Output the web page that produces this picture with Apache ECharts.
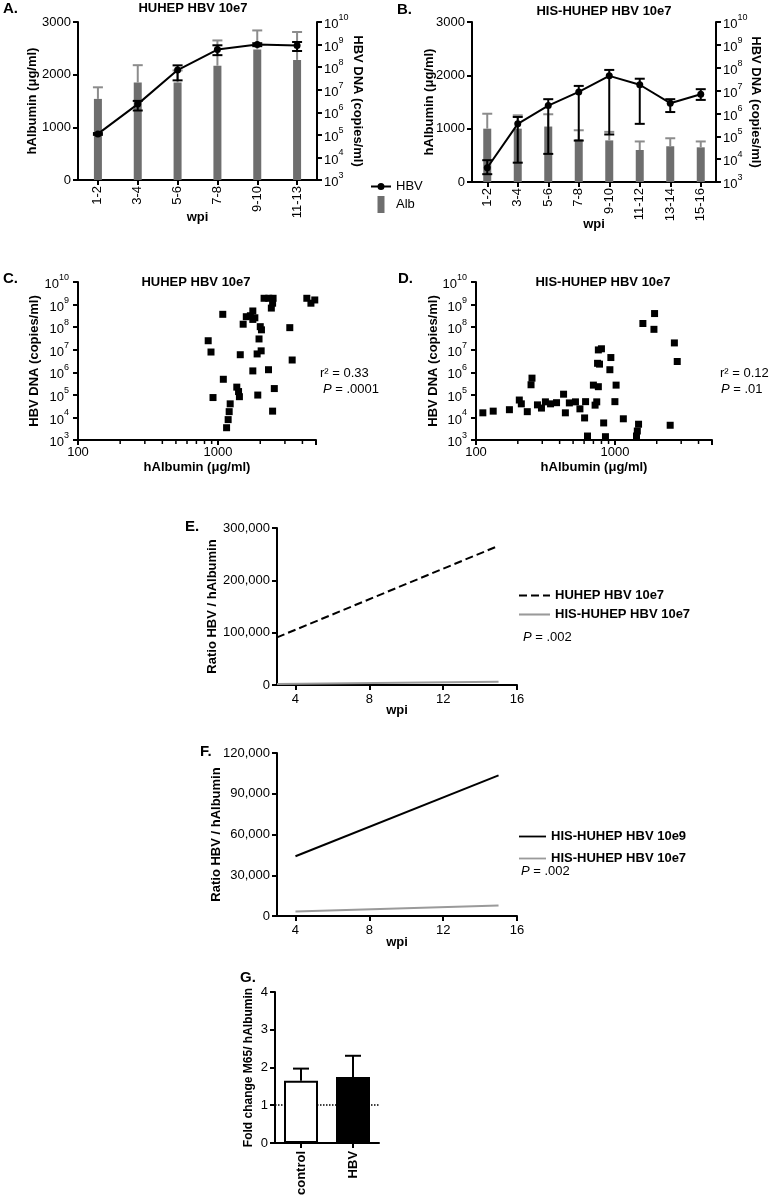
<!DOCTYPE html>
<html>
<head>
<meta charset="utf-8">
<script src="https://cdn.jsdelivr.net/npm/echarts@6/dist/echarts.min.js"></script>
<style>
html, body { margin: 0; padding: 0; background: #fff; }
#chart { width: 770px; height: 1198px; }
</style>
</head>
<body>
<div id="chart"></div>
<script>
// ---- panel A : HUHEP HBV 10e7
const wpiA = ['1-2', '3-4', '5-6', '7-8', '9-10', '11-13'];
const albA = [1540, 1850, 1850, 2170, 2480, 2280];
const albTopA = [1760, 2180, 2080, 2650, 2840, 2810];
const hbvA = [1.1e5, 2.3e6, 7.4e7, 6.0e8, 1.0e9, 9.0e8];
const hbvLoA = [1.0e5, 1.2e6, 2.6e7, 3.4e8, 0.85e9, 5.2e8];
const hbvHiA = [1.2e5, 3.2e6, 1.2e8, 9.3e8, 1.15e9, 1.3e9];

// ---- panel B : HIS-HUHEP HBV 10e7
const wpiB = ['1-2', '3-4', '5-6', '7-8', '9-10', '11-12', '13-14', '15-16'];
const albB = [1000, 1000, 1040, 800, 780, 600, 670, 650];
const albTopB = [1280, 1250, 1270, 970, 940, 760, 820, 760];
const hbvB = [4.2e3, 3.5e5, 2.2e6, 8.7e6, 4.4e7, 1.8e7, 2.8e6, 6.9e6];
const hbvLoB = [2.2e3, 7.0e3, 1.7e4, 6.5e4, 1.2e5, 3.5e5, 1.15e6, 3.9e6];
const hbvHiB = [9.0e3, 7.0e5, 4.2e6, 1.6e7, 8.0e7, 3.3e7, 4.2e6, 1.15e7];

// ---- panel C / D : hAlbumin vs HBV DNA
const scatterC = [
  [2130, 1.9e9], [2300, 1.9e9], [2470, 1.9e9], [2450, 1.15e9], [2400, 7.0e8],
  [4300, 1.9e9], [4900, 1.6e9], [4600, 1.15e9],
  [1080, 3.7e8], [1770, 5.2e8], [1590, 2.9e8], [1700, 3.2e8], [1830, 2.6e8], [1770, 2.2e8],
  [1510, 1.35e8], [2000, 1.05e8], [2040, 7.6e7], [3250, 9.5e7],
  [850, 2.5e7], [1960, 3.0e7], [890, 7.9e6], [1440, 6.0e6], [1900, 6.5e6], [2030, 8.9e6], [3380, 3.5e6],
  [1770, 1.15e6], [2290, 1.3e6], [1090, 4.9e5],
  [1360, 2.2e5], [1400, 1.4e5], [1420, 8.3e4], [1920, 9.8e4], [2520, 1.9e5], [920, 7.6e4],
  [1220, 4.0e4], [1200, 1.8e4], [1180, 8.0e3], [1150, 3.5e3], [2450, 1.9e4]
];
const scatterD = [
  [1930, 4.0e8], [1590, 1.45e8], [1910, 8.0e7], [2680, 2.0e7], [2810, 3.0e6],
  [760, 9.8e6], [800, 1.1e7], [935, 4.5e6], [750, 2.5e6], [775, 2.3e6], [920, 1.3e6],
  [253, 5.5e5], [249, 2.8e5], [700, 2.7e5], [760, 2.3e5], [1020, 2.7e5],
  [205, 5.9e4], [427, 1.07e5], [1000, 5.0e4], [615, 5.0e4], [720, 3.5e4],
  [112, 1.6e4], [133, 1.9e4], [174, 2.2e4], [212, 4.0e4], [234, 1.8e4], [277, 3.6e4],
  [296, 2.6e4], [316, 4.9e4], [344, 4.0e4], [380, 4.5e4], [440, 1.6e4], [470, 4.4e4],
  [520, 4.9e4], [560, 2.4e4], [605, 9.5e3], [635, 1.5e3], [740, 4.9e4], [830, 5.7e3],
  [855, 1.4e3], [1150, 8.7e3], [1450, 2.5e3], [1430, 1.5e3], [1480, 5.0e3], [2500, 4.5e3]
];
const albMinorTicks = [200, 300, 400, 500, 600, 700, 800, 900, 2000, 3000, 4000];

// ---- panel E / F : regression of ratio HBV / hAlbumin
const eWpi = [3, 15];
const eHuhep7 = [91000, 266000];
const eHis7 = [2000, 6300];
const fWpi = [4, 15];
const fHis9 = [44000, 103500];
const fHis7 = [3300, 7800];
const wpiTicks = [4, 8, 12, 16];

// ---- panel G
const gCats = ['control', 'HBV'];
const gMean = [1.65, 1.75];
const gTop = [1.97, 2.31];

const FONT = '"Liberation Sans", Arial, Helvetica, sans-serif';

function axis(o) {
  const base = {
    nameLocation: 'middle',
    nameMoveOverlap: false,
    nameTextStyle: { color: '#000', fontSize: 13, fontWeight: 'bold', fontFamily: FONT },
    axisLine: { show: true, onZero: false, lineStyle: { color: '#000', width: 2 } },
    axisTick: { show: true, length: 5, lineStyle: { color: '#000', width: 2 } },
    axisLabel: { color: '#000', fontSize: 13, fontFamily: FONT, margin: 7 },
    splitLine: { show: false }
  };
  for (const k in o) {
    if (base[k] && typeof o[k] === 'object' && !Array.isArray(o[k])) base[k] = Object.assign({}, base[k], o[k]);
    else base[k] = o[k];
  }
  return base;
}

const logRich = {
  b: { fontSize: 13, lineHeight: 18, verticalAlign: 'bottom', color: '#000', fontFamily: FONT },
  s: { fontSize: 9, lineHeight: 9, verticalAlign: 'top', color: '#000', fontFamily: FONT }
};
function powLabel(v) {
  const e = Math.round(Math.log10(v));
  if (Math.abs(Math.log10(v) - e) > 1e-6) return '';
  return '{b|10}{s|' + e + '}';
}
function plainPow(v) {
  return (v === 100 || v === 1000) ? String(v) : '';
}
const commas = v => v.toLocaleString('en-US');

// error bar: vertical line from value(1) to value(2), cap at top (and bottom if both)
function errBar(cap, color, both) {
  return function (params, api) {
    const i = api.value(0);
    const lo = api.coord([i, api.value(1)]);
    const hi = api.coord([i, api.value(2)]);
    const st = { stroke: color, lineWidth: 2 };
    const kids = [
      { type: 'line', shape: { x1: lo[0], y1: lo[1], x2: hi[0], y2: hi[1] }, style: st },
      { type: 'line', shape: { x1: hi[0] - cap, y1: hi[1], x2: hi[0] + cap, y2: hi[1] }, style: st }
    ];
    if (both) kids.push({ type: 'line', shape: { x1: lo[0] - cap, y1: lo[1], x2: lo[0] + cap, y2: lo[1] }, style: st });
    return { type: 'group', children: kids };
  };
}
function minorTick(params, api) {
  const p = api.coord([api.value(0), api.value(1)]);
  return { type: 'line', shape: { x1: p[0], y1: p[1], x2: p[0], y2: p[1] + 4 }, style: { stroke: '#000', lineWidth: 1.5 } };
}

function txt(text, x, y, size, opts) {
  return {
    type: 'text', x: x, y: y, silent: true,
    style: Object.assign({
      text: text, fontSize: size, fontFamily: FONT, fill: '#000',
      verticalAlign: 'middle', align: 'left'
    }, opts || {})
  };
}
const italicRich = { i: { fontStyle: 'italic', fontSize: 13, fontFamily: FONT, fill: '#000' } };

// legend icons
const solidIcon = 'path://M0,0h30v2h-30z';
const dashIcon = 'path://M0,0h8v2h-8zM12,0h8v2h-8zM24,0h7v2h-7z';
const lineDotIcon = 'path://M0,2.5h20v2h-20zM6.5,3.5a3.5,3.5 0 1,1 7,0a3.5,3.5 0 1,1 -7,0z';
const barIcon = 'path://M0,0H7V17H0Z';

const myChart = echarts.init(document.getElementById('chart'));

const option = {
  animation: false,
  backgroundColor: '#fff',
  textStyle: { fontFamily: FONT },
  grid: [
    { left: 78, top: 22, width: 239, height: 158 },   // A
    { left: 472, top: 22, width: 244, height: 160 },  // B
    { left: 78, top: 282, width: 238, height: 158 },  // C
    { left: 476, top: 282, width: 236, height: 158 }, // D
    { left: 277, top: 528, width: 240, height: 157 }, // E
    { left: 277, top: 753, width: 240, height: 163 }, // F
    { left: 275, top: 992, width: 104, height: 153 }  // G
  ],
  xAxis: [
    axis({ gridIndex: 0, type: 'category', data: wpiA, name: 'wpi', nameGap: 31,
      axisTick: { alignWithLabel: true }, axisLabel: { rotate: 90, interval: 0, margin: 6 } }),
    axis({ gridIndex: 1, type: 'category', data: wpiB, name: 'wpi', nameGap: 36,
      axisTick: { alignWithLabel: true }, axisLabel: { rotate: 90, interval: 0, margin: 6 } }),
    axis({ gridIndex: 2, type: 'log', min: 100, max: 5000, interval: 1, name: 'hAlbumin (μg/ml)', nameGap: 21,
      axisLabel: { formatter: plainPow, margin: 6 } }),
    axis({ gridIndex: 3, type: 'log', min: 100, max: 5000, interval: 1, name: 'hAlbumin (μg/ml)', nameGap: 21,
      axisLabel: { formatter: plainPow, margin: 6 } }),
    axis({ gridIndex: 4, type: 'value', min: 3, max: 16, name: 'wpi', nameGap: 19,
      axisTick: { customValues: wpiTicks }, axisLabel: { customValues: wpiTicks, margin: 8 } }),
    axis({ gridIndex: 5, type: 'value', min: 3, max: 16, name: 'wpi', nameGap: 20,
      axisTick: { customValues: wpiTicks }, axisLabel: { customValues: wpiTicks, margin: 8 } }),
    axis({ gridIndex: 6, type: 'category', data: gCats,
      axisTick: { alignWithLabel: true }, axisLabel: { rotate: 90, interval: 0, fontWeight: 'bold', margin: 8 } })
  ],
  yAxis: [
    axis({ gridIndex: 0, type: 'value', min: 0, max: 3000, interval: 1000, name: 'hAlbumin (μg/ml)', nameGap: 39,
      axisLabel: { formatter: v => String(v) } }),
    axis({ gridIndex: 0, type: 'log', position: 'right', min: 1e3, max: 1e10, interval: 1,
      name: 'HBV DNA (copies/ml)', nameGap: 34, nameRotate: -90,
      axisLabel: { formatter: powLabel, rich: logRich } }),
    axis({ gridIndex: 1, type: 'value', min: 0, max: 3000, interval: 1000, name: 'hAlbumin (μg/ml)', nameGap: 36,
      axisLabel: { formatter: v => String(v) } }),
    axis({ gridIndex: 1, type: 'log', position: 'right', min: 1e3, max: 1e10, interval: 1,
      name: 'HBV DNA (copies/ml)', nameGap: 33, nameRotate: -90,
      axisLabel: { formatter: powLabel, rich: logRich } }),
    axis({ gridIndex: 2, type: 'log', min: 1e3, max: 1e10, interval: 1, name: 'HBV DNA (copies/ml)', nameGap: 37,
      axisLabel: { formatter: powLabel, rich: logRich, margin: 9 } }),
    axis({ gridIndex: 3, type: 'log', min: 1e3, max: 1e10, interval: 1, name: 'HBV DNA (copies/ml)', nameGap: 36,
      axisLabel: { formatter: powLabel, rich: logRich, margin: 9 } }),
    axis({ gridIndex: 4, type: 'value', min: 0, max: 300000, interval: 100000, name: 'Ratio HBV / hAlbumin', nameGap: 58,
      axisLabel: { formatter: commas } }),
    axis({ gridIndex: 5, type: 'value', min: 0, max: 120000, interval: 30000, name: 'Ratio HBV / hAlbumin', nameGap: 54,
      axisLabel: { formatter: commas } }),
    axis({ gridIndex: 6, type: 'value', min: 0, max: 4, interval: 1, name: 'Fold change M65/ hAlbumin', nameGap: 20,
      nameTextStyle: { fontSize: 12 } })
  ],
  legend: [
    { data: [{ name: 'HBV', icon: lineDotIcon }, { name: 'Alb', icon: barIcon }], orient: 'vertical', left: 371, top: 180, padding: 0,
      itemWidth: 20, itemHeight: 17, itemGap: 3, selectedMode: false,
      textStyle: { fontSize: 13, color: '#000', fontFamily: FONT } },
    { data: [{ name: 'HUHEP HBV 10e7', icon: dashIcon }, { name: 'HIS-HUHEP HBV 10e7', icon: solidIcon }],
      orient: 'vertical', left: 519, top: 589, padding: 0,
      itemWidth: 31, itemHeight: 12, itemGap: 6, selectedMode: false,
      textStyle: { fontSize: 13, fontWeight: 'bold', color: '#000', fontFamily: FONT } },
    { data: [{ name: 'HIS-HUHEP HBV 10e9', icon: solidIcon }, { name: 'HIS-HUHEP HBV 10e7', icon: solidIcon }],
      orient: 'vertical', left: 519, top: 830, padding: 0,
      itemWidth: 27, itemHeight: 12, itemGap: 9, selectedMode: false,
      textStyle: { fontSize: 13, fontWeight: 'bold', color: '#000', fontFamily: FONT } }
  ],
  series: [
    // A
    { name: 'Alb', type: 'bar', xAxisIndex: 0, yAxisIndex: 0, data: albA, barWidth: 8, itemStyle: { color: '#6e6e6e' } },
    { type: 'custom', xAxisIndex: 0, yAxisIndex: 0, renderItem: errBar(5, '#8c8c8c', false),
      data: albA.map((v, i) => [i, v, albTopA[i]]), encode: { x: 0, y: [1, 2] }, z: 3 },
    { type: 'custom', xAxisIndex: 0, yAxisIndex: 1, renderItem: errBar(5, '#000', true),
      data: hbvA.map((v, i) => [i, hbvLoA[i], hbvHiA[i]]), encode: { x: 0, y: [1, 2] }, z: 4 },
    { name: 'HBV', type: 'line', xAxisIndex: 0, yAxisIndex: 1, data: hbvA, symbol: 'circle', symbolSize: 7,
      lineStyle: { color: '#000', width: 2 }, itemStyle: { color: '#000' }, z: 5 },
    // B
    { name: 'Alb', type: 'bar', xAxisIndex: 1, yAxisIndex: 2, data: albB, barWidth: 8, itemStyle: { color: '#6e6e6e' } },
    { type: 'custom', xAxisIndex: 1, yAxisIndex: 2, renderItem: errBar(5, '#8c8c8c', false),
      data: albB.map((v, i) => [i, v, albTopB[i]]), encode: { x: 0, y: [1, 2] }, z: 3 },
    { type: 'custom', xAxisIndex: 1, yAxisIndex: 3, renderItem: errBar(5, '#000', true),
      data: hbvB.map((v, i) => [i, hbvLoB[i], hbvHiB[i]]), encode: { x: 0, y: [1, 2] }, z: 4 },
    { name: 'HBV', type: 'line', xAxisIndex: 1, yAxisIndex: 3, data: hbvB, symbol: 'circle', symbolSize: 7,
      lineStyle: { color: '#000', width: 2 }, itemStyle: { color: '#000' }, z: 5 },
    // C
    { type: 'scatter', xAxisIndex: 2, yAxisIndex: 4, data: scatterC, symbol: 'rect', symbolSize: 7,
      itemStyle: { color: '#000', opacity: 1 } },
    { type: 'custom', xAxisIndex: 2, yAxisIndex: 4, renderItem: minorTick, data: albMinorTicks.map(v => [v, 1e3]), encode: { x: 0, y: 1 } },
    // D
    { type: 'scatter', xAxisIndex: 3, yAxisIndex: 5, data: scatterD, symbol: 'rect', symbolSize: 7,
      itemStyle: { color: '#000', opacity: 1 } },
    { type: 'custom', xAxisIndex: 3, yAxisIndex: 5, renderItem: minorTick, data: albMinorTicks.map(v => [v, 1e3]), encode: { x: 0, y: 1 } },
    // E
    { name: 'HUHEP HBV 10e7', type: 'line', xAxisIndex: 4, yAxisIndex: 6, symbol: 'none',
      data: eWpi.map((x, i) => [x, eHuhep7[i]]), lineStyle: { color: '#000', width: 2, type: [8, 4] }, itemStyle: { color: '#000' } },
    { name: 'HIS-HUHEP HBV 10e7', type: 'line', xAxisIndex: 4, yAxisIndex: 6, symbol: 'none',
      data: eWpi.map((x, i) => [x, eHis7[i]]), lineStyle: { color: '#9a9a9a', width: 2 }, itemStyle: { color: '#9a9a9a' } },
    // F
    { name: 'HIS-HUHEP HBV 10e9', type: 'line', xAxisIndex: 5, yAxisIndex: 7, symbol: 'none',
      data: fWpi.map((x, i) => [x, fHis9[i]]), lineStyle: { color: '#000', width: 2 }, itemStyle: { color: '#000' } },
    { name: 'HIS-HUHEP HBV 10e7', type: 'line', xAxisIndex: 5, yAxisIndex: 7, symbol: 'none',
      data: fWpi.map((x, i) => [x, fHis7[i]]), lineStyle: { color: '#9a9a9a', width: 2 }, itemStyle: { color: '#9a9a9a' } },
    // G
    { type: 'bar', xAxisIndex: 6, yAxisIndex: 8, barWidth: 34,
      data: gMean.map((v, i) => ({ value: v, itemStyle: i === 0
        ? { color: '#fff', borderColor: '#000', borderWidth: 2 }
        : { color: '#000', borderColor: '#000', borderWidth: 2 } })),
      markLine: { z: 1, silent: true, symbol: ['none', 'none'], label: { show: false },
        lineStyle: { color: '#000', type: 'dotted', width: 1.5 }, data: [{ yAxis: 1 }] } },
    { type: 'custom', xAxisIndex: 6, yAxisIndex: 8, renderItem: errBar(8, '#000', false),
      data: gMean.map((v, i) => [i, v, gTop[i]]), encode: { x: 0, y: [1, 2] }, z: 3 }
  ],
  graphic: [
    txt('A.', 3, 9, 15, { fontWeight: 'bold' }),
    txt('B.', 397, 10, 15, { fontWeight: 'bold' }),
    txt('C.', 3, 279, 15, { fontWeight: 'bold' }),
    txt('D.', 398, 279, 15, { fontWeight: 'bold' }),
    txt('E.', 185, 527, 15, { fontWeight: 'bold' }),
    txt('F.', 200, 752, 15, { fontWeight: 'bold' }),
    txt('G.', 240, 978, 15, { fontWeight: 'bold' }),
    txt('HUHEP HBV 10e7', 193, 8, 13, { fontWeight: 'bold', align: 'center' }),
    txt('HIS-HUHEP HBV 10e7', 604, 11, 13, { fontWeight: 'bold', align: 'center' }),
    txt('HUHEP HBV 10e7', 196, 282, 13, { fontWeight: 'bold', align: 'center' }),
    txt('HIS-HUHEP HBV 10e7', 603, 282, 13, { fontWeight: 'bold', align: 'center' }),
    txt('r² = 0.33', 320, 373, 13),
    txt('{i|P} = .0001', 323, 389, 13, { rich: italicRich }),
    txt('r² = 0.12', 720, 373, 13),
    txt('{i|P} = .01', 721, 389, 13, { rich: italicRich }),
    txt('{i|P} = .002', 523, 637, 13, { rich: italicRich }),
    txt('{i|P} = .002', 521, 871, 13, { rich: italicRich })
  ]
};

myChart.setOption(option);
</script>
</body>
</html>
